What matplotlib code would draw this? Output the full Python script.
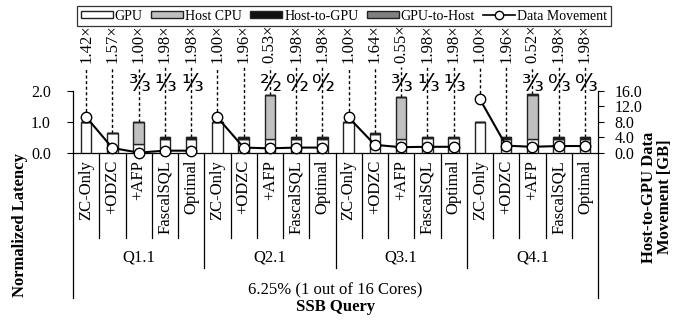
import matplotlib
matplotlib.use("Agg")
import matplotlib.pyplot as plt
from matplotlib.patches import Patch
from matplotlib.lines import Line2D
from matplotlib.transforms import blended_transform_factory

plt.rcParams['font.family'] = ['Liberation Serif', 'DejaVu Serif']

queries = ["Q1.1", "Q2.1", "Q3.1", "Q4.1"]
configs = ["ZC-Only", "+ODZC", "+AFP", "FascalSQL", "Optimal"]

gpu = [1.00, 0.65, 0.28, 0.46, 0.46,
       1.00, 0.46, 0.45, 0.46, 0.46,
       1.00, 0.60, 0.46, 0.48, 0.48,
       1.00, 0.46, 0.46, 0.46, 0.46]
host_cpu = [0.00, 0.00, 0.72, 0.00, 0.00,
            0.00, 0.00, 1.42, 0.00, 0.00,
            0.00, 0.00, 1.35, 0.00, 0.00,
            0.00, 0.00, 1.42, 0.00, 0.00]
host_to_gpu = [0.00, 0.00, 0.00, 0.04, 0.04,
               0.00, 0.04, 0.01, 0.04, 0.04,
               0.00, 0.04, 0.01, 0.04, 0.04,
               0.00, 0.04, 0.02, 0.04, 0.04]
gpu_to_host = [0.0] * 20
data_movement = [9.3, 1.3, 0.1, 0.6, 0.6,
                 9.2, 1.4, 1.2, 1.4, 1.4,
                 9.2, 2.1, 1.5, 1.6, 1.6,
                 13.9, 1.9, 1.6, 1.8, 1.8]
speedups = ["1.42×", "1.57×", "1.00×", "1.98×", "1.98×",
            "1.00×", "1.96×", "0.53×", "1.98×", "1.98×",
            "1.00×", "1.64×", "0.55×", "1.98×", "1.98×",
            "1.00×", "1.96×", "0.52×", "1.98×", "1.98×"]
fractions = ["", "", "³⁄₃", "¹⁄₃", "¹⁄₃",
             "", "", "²⁄₂", "⁰⁄₂", "⁰⁄₂",
             "", "", "³⁄₃", "¹⁄₃", "¹⁄₃",
             "", "", "³⁄₃", "⁰⁄₃", "⁰⁄₃"]
latency_ticks = [0.0, 1.0, 2.0]
movement_ticks = [0.0, 4.0, 8.0, 12.0, 16.0]
subtitle = "6.25% (1 out of 16 Cores)"

W, H = 691, 322
fig = plt.figure(figsize=(W / 100, H / 100), dpi=100)
ax_left, ax_right, ax_bot, ax_top = 73, 598, 153, 28
ax = fig.add_axes([ax_left / W, 1 - ax_bot / H, (ax_right - ax_left) / W, (ax_bot - ax_top) / H])
ymax = 2.0 / 62 * (ax_bot - ax_top)
ax.set_ylim(0, ymax)
n = len(gpu)
ax.set_xlim(-0.5, n - 0.5)
ax2 = ax.twinx()
ax2.set_ylim(0, ymax * 8)

def py2ax(py):
    return (ax_bot - py) / (ax_bot - ax_top)

xs = list(range(n))
bw = 0.4
ec = '#222222'
bottoms = [0.0] * n
for vals, col in [(gpu, 'white'), (host_cpu, '#c0c0c0'), (host_to_gpu, '#111111'), (gpu_to_host, '#808080')]:
    ax.bar(xs, vals, bw, bottom=bottoms, color=col, edgecolor=ec, linewidth=1.0, zorder=3)
    bottoms = [b + v for b, v in zip(bottoms, vals)]

# dashed guide lines, speedup labels, fractions
line_top = (ax_bot - 67) / 31.0
label_y = (ax_bot - 63) / 31.0
frac_y = (ax_bot - 84) / 31.0
for i in range(n):
    base = max(bottoms[i], data_movement[i] / 8)
    ax.plot([i, i], [base, line_top], color='black', lw=1.0, ls=(0, (2.2, 1.8)), zorder=2, clip_on=False)
    ax.text(i, label_y, speedups[i], rotation=90, ha='center', va='bottom', fontsize=12, clip_on=False)
    if fractions[i]:
        ax.text(i + 0.05, frac_y, fractions[i], ha='center', va='center', fontsize=17,
                family='DejaVu Sans', zorder=4, clip_on=False)

# data movement line per group
for g in range(len(queries)):
    idx = list(range(g * 5, g * 5 + 5))
    ax2.plot(idx, [data_movement[k] for k in idx], color='black', lw=1.5, marker='o', ms=7.5,
             mfc='white', mec='black', mew=1.0, zorder=5, clip_on=False)

# axes styling
for a in (ax, ax2):
    a.spines['top'].set_visible(False)
ax.spines['right'].set_visible(False)
ax2.spines['left'].set_visible(False)
ax2.spines['bottom'].set_visible(False)
ax.spines['left'].set_bounds(0, 2.0)
ax2.spines['right'].set_bounds(0, 16.0)
ax.set_yticks(latency_ticks)
ax.set_yticklabels([f"{v:.1f}" for v in latency_ticks], fontsize=11.5)
ax2.set_yticks(movement_ticks)
ax2.set_yticklabels([f"{v:.1f}" for v in movement_ticks], fontsize=11.5)
ax.tick_params(axis='y', direction='out', length=4, width=0.8, pad=12)
ax2.tick_params(axis='y', direction='out', length=4, width=0.8, pad=8)
ax.set_xticks([])
for s in ('left', 'bottom'):
    ax.spines[s].set_linewidth(0.9)
ax2.spines['right'].set_linewidth(0.9)

# category axis drawn below
tr = blended_transform_factory(ax.transData, ax.transAxes)
for i in range(n):
    ax.text(i, py2ax(160), configs[i % 5], rotation=90, ha='center', va='top', fontsize=12,
            transform=tr, clip_on=False)
for k in range(n + 1):
    x = k - 0.5
    if k == 0 or k == n:
        yb = py2ax(298)
    elif k % 5 == 0:
        yb = py2ax(268)
    else:
        yb = py2ax(238)
    ax.plot([x, x], [0, yb], color='black', lw=0.9, transform=tr, clip_on=False)
for g, q in enumerate(queries):
    ax.text(g * 5 + 2, py2ax(258), q, ha='center', va='center', fontsize=12, transform=tr, clip_on=False)
ax.text((n - 1) / 2, py2ax(290), subtitle, ha='center', va='center', fontsize=12, transform=tr, clip_on=False)
ax.text((n - 1) / 2, py2ax(307), "SSB Query", ha='center', va='center', fontsize=12, fontweight='bold',
        transform=tr, clip_on=False)

fig.text(20 / W, 1 - 225 / H, "Normalized Latency", rotation=90, ha='center', va='center',
         fontsize=12, fontweight='bold')
fig.text(657 / W, 1 - 197 / H, "Host-to-GPU Data\nMovement [GB]", rotation=90, ha='center', va='center',
         fontsize=12, fontweight='bold', linespacing=1.0)

handles = [Patch(facecolor='white', edgecolor=ec, label='GPU'),
           Patch(facecolor='#c0c0c0', edgecolor=ec, label='Host CPU'),
           Patch(facecolor='#111111', edgecolor=ec, label='Host-to-GPU'),
           Patch(facecolor='#808080', edgecolor=ec, label='GPU-to-Host'),
           Line2D([], [], color='black', lw=1.2, marker='o', ms=6, mfc='white', mec='black',
                  label='Data Movement')]
leg = fig.legend(handles=handles, loc='center', bbox_to_anchor=(344 / W, 1 - 16 / H), ncol=5,
                 fontsize=10, frameon=True, fancybox=False, edgecolor='black', handlelength=2.3,
                 handleheight=0.35, handletextpad=0.15, columnspacing=0.6, borderpad=0.25,
                 borderaxespad=0)
leg.get_frame().set_linewidth(0.9)

fig.savefig("out.png", dpi=100)
